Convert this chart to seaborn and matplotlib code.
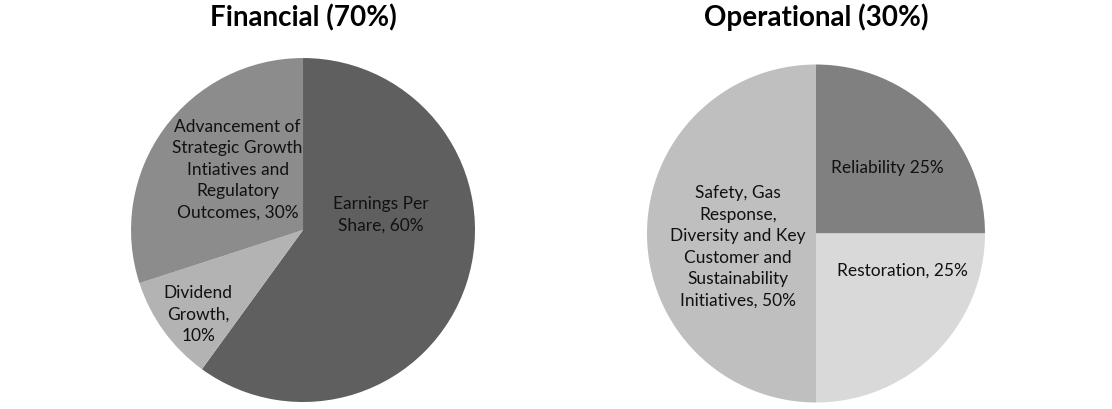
import matplotlib
matplotlib.use("Agg")
import matplotlib.pyplot as plt
import seaborn as sns

# data
fin_labels = ["Earnings Per\nShare, 60%", "Dividend\nGrowth,\n10%",
              "Advancement of\nStrategic Growth\nIntiatives and\nRegulatory\nOutcomes, 30%"]
fin_values = [60, 10, 30]
fin_colors = ["#5f5f5f", "#b3b3b3", "#8c8c8c"]

ops_labels = ["Reliability 25%", "Restoration, 25%",
              "Safety, Gas\nResponse,\nDiversity and Key\nCustomer and\nSustainability\nInitiatives, 50%"]
ops_values = [25, 25, 50]
ops_colors = ["#808080", "#d9d9d9", "#bfbfbf"]

# layout (label centres in pie-radius units)
fin_pos = [(0.45, 0.09), (-0.61, -0.49), (-0.38, 0.35)]
ops_pos = [(0.42, 0.39), (0.51, -0.22), (-0.46, -0.08)]

sns.set_theme(style="white")
plt.rcParams["font.family"] = ["Lato", "DejaVu Sans"]

fig = plt.figure(figsize=(11.12, 4.09), dpi=100)
ax1 = fig.add_axes([0.1178, 0.0171, 0.3094, 0.841])
ax2 = fig.add_axes([0.5818, 0.0159, 0.3040, 0.8264])


def draw(ax, values, labels, colors, pos, title):
    wedges, texts = ax.pie(values, labels=labels, colors=colors, startangle=90,
                           counterclock=False, wedgeprops=dict(linewidth=0),
                           textprops=dict(fontsize=12.5, color="#111111",
                                          ha="center", va="center",
                                          multialignment="center", linespacing=1.42))
    for t, p in zip(texts, pos):
        t.set_position(p)
        t.set_ha("center"); t.set_va("center")
    ax.set_xlim(-1, 1); ax.set_ylim(-1, 1)
    ax.set_aspect("equal")
    ax.axis("off")
    fig.text(ax.get_position().x0 + ax.get_position().width / 2, 0.957, title,
             ha="center", va="center", fontsize=20, fontweight="bold", color="black")


draw(ax1, fin_values, fin_labels, fin_colors, fin_pos, "Financial (70%)")
draw(ax2, ops_values, ops_labels, ops_colors, ops_pos, "Operational (30%)")

fig.savefig("out.png", dpi=100)
